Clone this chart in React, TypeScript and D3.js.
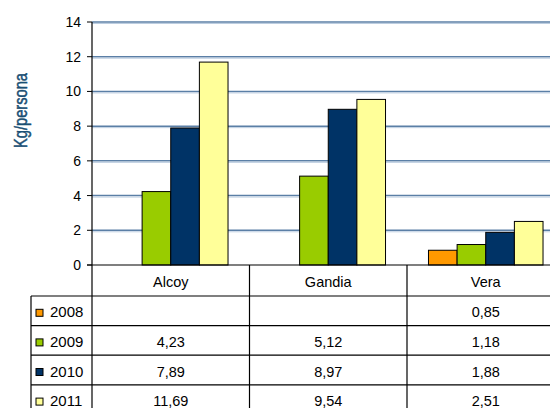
import React from 'react';
import * as d3 from 'd3';

const categories = ['Alcoy', 'Gandia', 'Vera'];
const years = ['2008', '2009', '2010', '2011'];
const values2008: (number | null)[] = [null, null, 0.85];
const values2009: (number | null)[] = [4.23, 5.12, 1.18];
const values2010: (number | null)[] = [7.89, 8.97, 1.88];
const values2011: (number | null)[] = [11.69, 9.54, 2.51];
const yTicks = [0, 2, 4, 6, 8, 10, 12, 14];
const colors = ['#ff9900', '#99cc00', '#003366', '#ffff99'];
const yLabel = 'Kg/persona';

const series = [values2008, values2009, values2010, values2011];

const fmt = (v: number | null) => (v == null ? '' : v.toFixed(2).replace('.', ','));

export default function App() {
  const W = 550, H = 408;
  const left = 92, top = 22, bottom = 265;
  const catW = 157.5;
  const x = d3.scaleBand<string>().domain(categories).range([left, left + catW * 3]).padding(0);
  const xi = d3.scaleBand<string>().domain(years).range([0, x.bandwidth()]).paddingInner(0).paddingOuter(0.75);
  const y = d3.scaleLinear().domain([0, 14]).range([bottom, top]);

  const tableLeft = 31;
  const headerBottom = 296;
  const rowH = 29.6;
  const rightEdge = left + catW * 3;
  const font = 'Liberation Sans, Arial, sans-serif';
  const tfs = 14.5;

  return (
    <svg width={W} height={H} style={{ position: 'absolute', left: 0, top: 0, background: '#fff' }}>
      {/* gridlines */}
      {yTicks.filter(t => t > 0).map(t => (
        <g key={'g' + t}>
          <line x1={left} x2={rightEdge} y1={y(t)} y2={y(t)} stroke="#5b7fa6" strokeWidth={1.5} />
          <line x1={left} x2={rightEdge} y1={y(t) + 1.5} y2={y(t) + 1.5} stroke="#bccde0" strokeWidth={1} />
        </g>
      ))}
      {/* bars */}
      {categories.map((c, ci) =>
        series.map((s, si) => {
          const v = s[ci];
          if (v == null) return null;
          const bx = (x(c) as number) + (xi(years[si]) as number);
          return (
            <rect key={c + si} x={bx} y={y(v)} width={xi.bandwidth()} height={bottom - y(v)}
              fill={colors[si]} stroke="#000" strokeWidth={1} />
          );
        })
      )}
      {/* y axis */}
      <line x1={left} x2={left} y1={top} y2={H} stroke="#000" strokeWidth={1.2} />
      {yTicks.map(t => (
        <g key={'t' + t}>
          <line x1={left - 5} x2={left} y1={y(t)} y2={y(t)} stroke="#000" strokeWidth={1} />
          <text x={left - 11} y={y(t)} dy="0.36em" textAnchor="end" fontFamily={font} fontSize={14} fill="#000">{t}</text>
        </g>
      ))}
      {/* x axis */}
      <line x1={left - 5} x2={rightEdge} y1={bottom} y2={bottom} stroke="#000" strokeWidth={1.2} />
      {/* y label */}
      <text transform={`translate(26.5,${110.5}) rotate(-90)`} textAnchor="middle"
        fontFamily={font} textLength={75} lengthAdjust="spacingAndGlyphs"
        fontSize={18} fill="#1a4f74" stroke="#1a4f74" strokeWidth={0.5}>{yLabel}</text>
      {/* table */}
      {categories.map((c, ci) => (
        <g key={'col' + c}>
          <line x1={(x(c) as number) + catW} x2={(x(c) as number) + catW} y1={bottom} y2={H} stroke="#000" strokeWidth={1.2} />
          <text x={(x(c) as number) + catW / 2} y={(bottom + headerBottom) / 2 + 6} textAnchor="middle" fontFamily={font} fontSize={tfs}>{c}</text>
        </g>
      ))}
      <line x1={tableLeft} x2={tableLeft} y1={headerBottom} y2={H} stroke="#000" strokeWidth={1.2} />
      {years.map((yr, si) => {
        const ry = headerBottom + si * rowH;
        const by = ry + rowH / 2 + 6.5;
        return (
          <g key={'row' + yr}>
            <line x1={tableLeft} x2={rightEdge} y1={ry} y2={ry} stroke="#000" strokeWidth={1.2} />
            <rect x={36} y={ry + rowH / 2 - 1.5} width={7} height={7} fill={colors[si]} stroke="#000" strokeWidth={1} />
            <text x={50} y={by} fontFamily={font} fontSize={tfs + 0.5}>{yr}</text>
            {categories.map((c, ci) => (
              <text key={c} x={(x(c) as number) + catW / 2} y={by} textAnchor="middle" fontFamily={font} fontSize={tfs}>{fmt(series[si][ci])}</text>
            ))}
          </g>
        );
      })}
    </svg>
  );
}
